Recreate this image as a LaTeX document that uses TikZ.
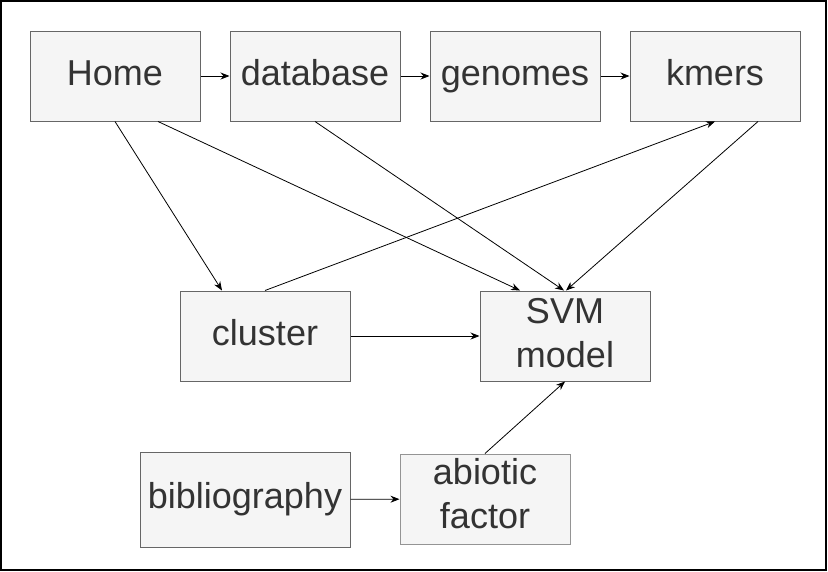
\documentclass[tikz,border=0pt]{standalone}
\usepackage{fontspec}
\setmainfont{Liberation Sans}
\usetikzlibrary{arrows.meta}
\definecolor{boxfill}{HTML}{F5F5F5}
\definecolor{boxline}{HTML}{666666}
\definecolor{boxtext}{HTML}{333333}
\begin{document}
\begin{tikzpicture}[x=1pt,y=-1pt,
  box/.style={draw=boxline,fill=boxfill,line width=1pt,text=boxtext,
    minimum width=170pt,minimum height=90pt,inner sep=0pt,align=center,
    text height=27pt,text depth=9pt,
    font=\fontsize{36}{44}\selectfont},
  twoline/.style={text height=71pt},
  conn/.style={draw=black,line width=0.8pt,-{Stealth[length=9pt,width=7pt]}}]
\useasboundingbox (0,0) rectangle (828,571);
\draw[line width=1.5pt] (0.75,0.75) rectangle (826,570);
\node[box] (home) at (115,76) {Home};
\node[box] (db) at (315,76) {database};
\node[box] (gen) at (515,76) {genomes};
\node[box] (kmers) at (715,76) {kmers};
\node[box] (cluster) at (265,336) {cluster};
\node[box,twoline] (svm) at (565,336) {SVM\\model};
\node[box,minimum width=210pt,minimum height=95pt] (bib) at (245,499.5) {bibliography};
\node[box,twoline,text height=67pt,draw=boxline!70] (abio) at (485,499) {abiotic\\factor};
\draw[conn] (home) -- (db);
\draw[conn] (db) -- (gen);
\draw[conn] (gen) -- (kmers);
\draw[conn] (home.south) -- ([xshift=-43pt]cluster.north);
\draw[conn] ([xshift=43pt]home.south) -- ([xshift=-45pt]svm.north);
\draw[conn] (db.south) -- ([xshift=-1pt]svm.north);
\draw[conn] ([xshift=43pt]kmers.south) -- ([xshift=1pt]svm.north);
\draw[conn] (cluster.north) -- (kmers.south);
\draw[conn] (cluster) -- (svm);
\draw[conn] (bib) -- (abio);
\draw[conn] (abio.north) -- (svm.south);
\end{tikzpicture}
\end{document}
